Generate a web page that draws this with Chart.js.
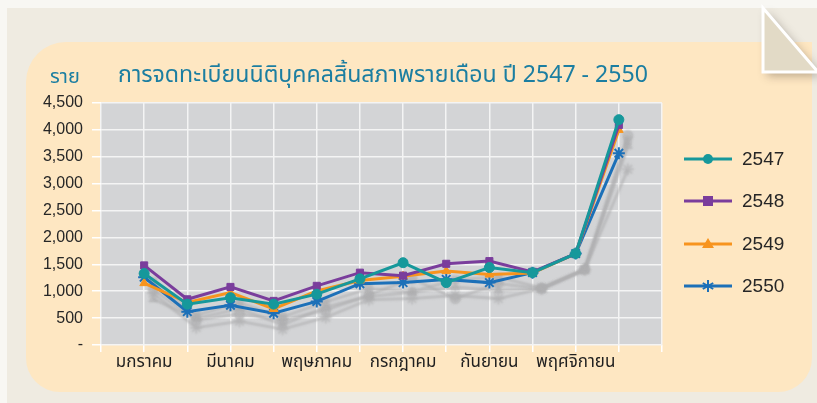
<!DOCTYPE html>
<html>
<head>
<meta charset="utf-8">
<script src="https://cdn.jsdelivr.net/npm/chart.js@4.4.1/dist/chart.umd.min.js"></script>
<style>
  html, body { margin: 0; padding: 0; background: #efebe1; }
  #wrap { width: 817px; height: 403px; }
</style>
</head>
<body>
<div id="wrap"><canvas id="c" width="817" height="403"></canvas></div>
<script>
// เดือน (categories)
const months = ['มกราคม', 'กุมภาพันธ์', 'มีนาคม', 'เมษายน', 'พฤษภาคม', 'มิถุนายน',
  'กรกฎาคม', 'สิงหาคม', 'กันยายน', 'ตุลาคม', 'พฤศจิกายน', 'ธันวาคม'];
const years = ['2547', '2548', '2549', '2550'];

// values (ราย)
const y2547 = [1330, 760, 880, 760, 945, 1230, 1530, 1160, 1440, 1345, 1700, 4190];
const y2548 = [1480, 850, 1080, 820, 1100, 1345, 1290, 1510, 1560, 1360, 1700, 4090];
const y2549 = [1150, 790, 975, 670, 1005, 1200, 1280, 1375, 1310, 1340, 1700, 4000];
const y2550 = [1260, 620, 740, 590, 810, 1140, 1160, 1220, 1160, 1345, 1700, 3565];

const yTicks = [0, 500, 1000, 1500, 2000, 2500, 3000, 3500, 4000, 4500];

const TITLE = 'การจดทะเบียนนิติบุคคลสิ้นสภาพรายเดือน ปี 2547 - 2550';
const FONT = '"Noto Sans Thai", "Liberation Sans", Arial, sans-serif';

const colors = ['#16989b', '#7a3d9c', '#f7941e', '#1c70b8'];
const styles = ['circle', 'rect', 'triangle', 'star'];
const series = [y2547, y2548, y2549, y2550];

// pad both ends so points sit on inner gridlines
const labels = [''].concat(months, ['']);
const pad = arr => [null].concat(arr, [null]);

const background = {
  id: 'background',
  beforeDraw(chart) {
    const ctx = chart.ctx;
    ctx.save();
    ctx.fillStyle = '#f8f7f3';
    ctx.fillRect(0, 0, 817, 403);
    ctx.fillStyle = '#efebe1';
    ctx.fillRect(7, 8, 810, 395);

    // peach panel
    ctx.fillStyle = '#fee7c2';
    ctx.beginPath();
    ctx.roundRect(26, 42, 786, 350, [40, 0, 34, 34]);
    ctx.fill();

    // folded corner
    ctx.shadowColor = 'rgba(60,50,40,0.35)';
    ctx.shadowBlur = 10;
    ctx.shadowOffsetX = 4;
    ctx.shadowOffsetY = 4;
    ctx.fillStyle = '#e2dac6';
    ctx.beginPath();
    ctx.moveTo(763, 8);
    ctx.lineTo(763, 72);
    ctx.lineTo(818, 72);
    ctx.closePath();
    ctx.fill();
    ctx.shadowColor = 'transparent';
    ctx.strokeStyle = '#ffffff';
    ctx.lineWidth = 3;
    ctx.stroke();

    // plot background
    const a = chart.chartArea;
    ctx.fillStyle = '#d3d4d6';
    ctx.fillRect(a.left, a.top, a.right - a.left, a.bottom - a.top);
    ctx.restore();
  },
  afterDraw(chart) {
    const ctx = chart.ctx;
    ctx.save();
    ctx.fillStyle = '#1b7ea1';
    ctx.textBaseline = 'alphabetic';
    ctx.font = '20px ' + FONT;
    ctx.fillText('ราย', 50, 83);
    ctx.font = '23px ' + FONT;
    const w = ctx.measureText(TITLE).width;
    ctx.translate(118, 82);
    ctx.scale(530 / w, 1);
    ctx.fillText(TITLE, 0, 0);
    ctx.restore();

    // legend
    ctx.save();
    const ys = [159, 201, 244, 286];
    chart.data.datasets.forEach((ds, i) => {
      const y = ys[i];
      ctx.strokeStyle = ds.borderColor;
      ctx.lineWidth = 3;
      ctx.beginPath();
      ctx.moveTo(684, y);
      ctx.lineTo(732, y);
      ctx.stroke();
      drawMarker(ctx, ds.pointStyle, 708, y, ds.borderColor);
      ctx.fillStyle = '#262626';
      ctx.font = '19px "Liberation Sans", Arial, sans-serif';
      ctx.textBaseline = 'middle';
      ctx.fillText(ds.label, 742, y + 1);
    });
    ctx.restore();
  }
};

function drawMarker(ctx, style, x, y, color) {
  ctx.fillStyle = color;
  ctx.strokeStyle = color;
  ctx.lineWidth = 2;
  ctx.beginPath();
  if (style === 'circle') {
    ctx.arc(x, y, 5, 0, Math.PI * 2);
    ctx.fill();
  } else if (style === 'rect') {
    ctx.fillRect(x - 5, y - 5, 10, 10);
  } else if (style === 'triangle') {
    ctx.moveTo(x, y - 6);
    ctx.lineTo(x + 6, y + 4);
    ctx.lineTo(x - 6, y + 4);
    ctx.closePath();
    ctx.fill();
  } else {
    for (let k = 0; k < 3; k++) {
      const ang = Math.PI / 2 + k * Math.PI / 3;
      ctx.moveTo(x + Math.cos(ang) * 6, y + Math.sin(ang) * 6);
      ctx.lineTo(x - Math.cos(ang) * 6, y - Math.sin(ang) * 6);
    }
    ctx.stroke();
  }
}

// gray drop shadow behind all lines (drawn offscreen, only shadow lands in view)
const shadows = {
  id: 'shadows',
  beforeDatasetsDraw(chart) {
    const ctx = chart.ctx;
    const shift = 3000;
    ctx.save();
    ctx.translate(-shift, 0);
    ctx.shadowColor = 'rgba(175,175,177,0.6)';
    ctx.shadowBlur = 2;
    ctx.shadowOffsetX = shift + 9;
    ctx.shadowOffsetY = 16;
    chart.data.datasets.forEach((ds, i) => {
      const meta = chart.getDatasetMeta(i);
      meta.dataset.draw(ctx);
      meta.data.forEach(p => p.draw(ctx));
    });
    ctx.restore();
  }
};

new Chart(document.getElementById('c'), {
  type: 'line',
  data: {
    labels: labels,
    datasets: years.map((yr, i) => ({
      label: yr,
      data: pad(series[i]),
      borderColor: colors[i],
      backgroundColor: colors[i],
      pointStyle: styles[i],
      borderWidth: 3,
      pointRadius: styles[i] === 'star' ? 6 : 5,
      pointBorderWidth: styles[i] === 'star' ? 2 : 1,
      tension: 0,
      fill: false
    }))
  },
  options: {
    responsive: false,
    animation: false,
    layout: { padding: { left: 0, right: 155, top: 103, bottom: 0 } },
    plugins: {
      legend: { display: false },
      title: { display: false },
      tooltip: { enabled: false }
    },
    scales: {
      x: {
        type: 'category',
        offset: false,
        afterFit(s) { s.height = 58; },
        grid: { color: '#f4f4f4', lineWidth: 1.5, tickLength: 7, tickColor: '#ffffff' },
        border: { display: false },
        ticks: {
          autoSkip: false,
          maxRotation: 0,
          padding: 1,
          color: '#1f1f1f',
          font: { family: FONT, size: 17 },
          callback(v, idx) { return idx % 2 === 1 ? labels[idx] : ''; }
        }
      },
      y: {
        min: 0,
        max: 4500,
        afterFit(s) { s.width = 101; },
        afterBuildTicks(s) { s.ticks = yTicks.map(v => ({ value: v })); },
        grid: { color: '#f4f4f4', lineWidth: 1.5, tickLength: 9, tickColor: '#ffffff' },
        border: { display: false },
        ticks: {
          padding: 9,
          color: '#262626',
          font: { family: '"Liberation Sans", Arial, sans-serif', size: 16 },
          callback(v) { return v === 0 ? '-' : v.toLocaleString('en-US'); }
        }
      }
    }
  },
  plugins: [background, shadows]
});
</script>
</body>
</html>
